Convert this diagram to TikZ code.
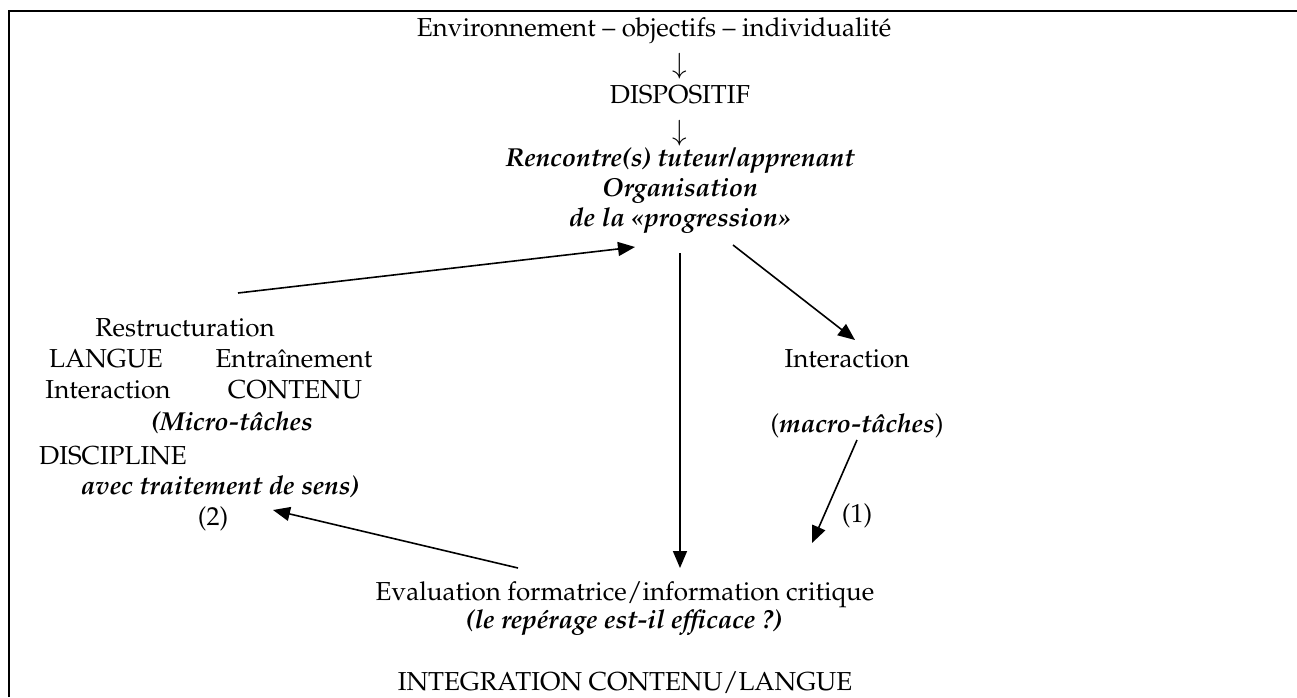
\documentclass[tikz,border=0pt]{standalone}
\usepackage[T1]{fontenc}
\usepackage{mathpazo}
\usetikzlibrary{arrows.meta}
\begin{document}
\begin{tikzpicture}[x=0.5pt,y=-0.5pt,
  txt/.style={anchor=base,inner sep=0pt,font=\fontsize{13}{15.5}\selectfont},
  bi/.style={anchor=base,inner sep=0pt,font=\fontsize{13}{15.5}\selectfont\bfseries\itshape},
  arr/.style={anchor=center,inner sep=0pt,font=\fontsize{14}{16}\selectfont},
  conn/.style={line width=0.8pt,-{Triangle[length=8.5pt,width=7pt]}},
  frameline/.style={line width=1.1pt}]
\useasboundingbox (0,0) rectangle (1297,697);
% frame
\coordinate (fbl) at (9,697);
\coordinate (ftl) at (9,11);
\coordinate (ftr) at (1297,11);
\draw[frameline] (fbl) -- (ftl) -- (ftr);
% top column
\node[txt] (env) at (654,36) {Environnement -- objectifs -- individualit\'e};
\node[arr] (ar1) at (680,66) {$\downarrow$};
\node[txt] (disp) at (680,103) {DISPOSITIF};
\node[arr] (ar2) at (680,133) {$\downarrow$};
\node[bi] (renc) at (680,166) {Rencontre(s) tuteur/apprenant};
\node[bi] (org) at (680,196) {Organisation};
\node[bi] (prog) at (680,226) {de la \guillemotleft progression\guillemotright};
% left block
\node[txt] (restr) at (185,336) {Restructuration};
\node[txt] (langue) at (106,367) {LANGUE};
\node[txt] (entr) at (294,367) {Entra\^{\i}nement};
\node[txt] (inter1) at (108,398) {Interaction};
\node[txt] (cont) at (295,398) {CONTENU};
\node[bi] (micro) at (232,430) {(Micro-t\^aches};
\node[txt] (disc) at (113,464) {DISCIPLINE};
\node[bi] (avec) at (220,494) {avec traitement de sens)};
\node[txt] (two) at (213,525) {(2)};
% right block
\node[txt] (inter2) at (847,367) {Interaction};
\node[txt] (macro) at (857,432) {(\textbf{\textit{macro-t\^aches}})};
\node[txt] (one) at (857,522) {(1)};
% bottom
\node[txt] (eval) at (625,600) {Evaluation formatrice/information critique};
\node[bi] (rep) at (624,628) {(le rep\'erage est-il efficace ?)};
\node[txt] (integ) at (625,690) {INTEGRATION CONTENU/LANGUE};
% connector ends
\coordinate (a1s) at (238,293);
\coordinate (a1e) at (635,247);
\coordinate (a2s) at (680,253);
\coordinate (a2e) at (680,568);
\coordinate (a3s) at (733,245);
\coordinate (a3e) at (855,340);
\coordinate (a4s) at (857,440);
\coordinate (a4e) at (812,543);
\coordinate (a5s) at (518,568);
\coordinate (a5e) at (273,510);
\draw[conn] (a1s) -- (a1e);
\draw[conn] (a2s) -- (a2e);
\draw[conn] (a3s) -- (a3e);
\draw[conn] (a4s) -- (a4e);
\draw[conn] (a5s) -- (a5e);
\end{tikzpicture}
\end{document}
